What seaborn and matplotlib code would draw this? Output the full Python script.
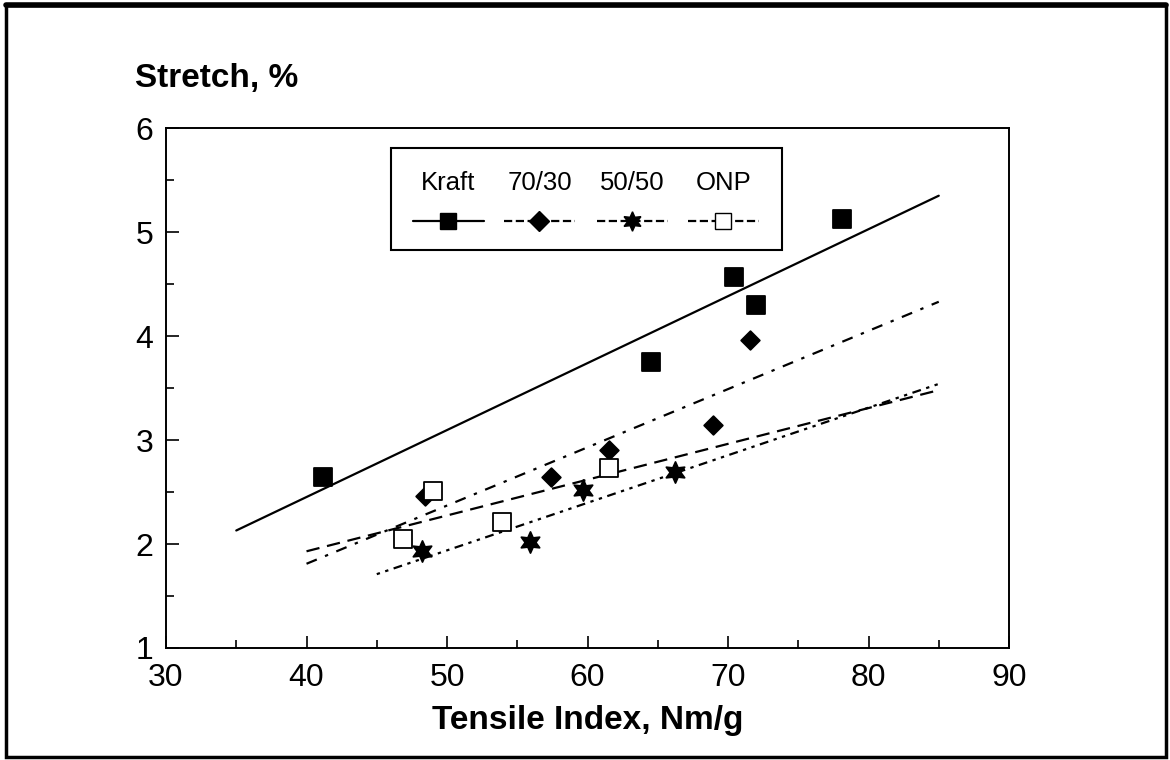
import matplotlib
matplotlib.use("Agg")
import matplotlib.pyplot as plt
from matplotlib.patches import Rectangle
from matplotlib.lines import Line2D
import seaborn as sns

# measured points
kraft_x = [41.2, 64.5, 70.4, 72.0, 78.1]
kraft_y = [2.64, 3.75, 4.57, 4.30, 5.13]
b7030_x = [48.4, 57.4, 61.5, 68.9, 71.6]
b7030_y = [2.46, 2.64, 2.90, 3.14, 3.96]
b5050_x = [48.2, 55.9, 59.7, 66.2]
b5050_y = [1.93, 2.02, 2.52, 2.69]
onp_x = [46.9, 49.0, 53.9, 61.5]
onp_y = [2.05, 2.51, 2.21, 2.73]

# fitted lines
kraft_fit_x = [35, 85]
kraft_fit_y = [2.13, 5.35]
b7030_fit_x = [40, 85]
b7030_fit_y = [1.81, 4.33]
b5050_fit_x = [45, 85]
b5050_fit_y = [1.71, 3.54]
onp_fit_x = [40, 85]
onp_fit_y = [1.93, 3.48]

labels = ["Kraft", "70/30", "50/50", "ONP"]

sns.set_style("ticks")
plt.rcParams['font.family'] = ['Liberation Sans', 'DejaVu Sans']
plt.rcParams['text.color'] = 'black'

fig = plt.figure(figsize=(11.7, 7.6), dpi=100)
ax = fig.add_axes([0.1419, 0.1474, 0.7205, 0.684])

star6 = (6, 1, 0)
styles = [
    (kraft_x, kraft_y, kraft_fit_x, kraft_fit_y, "s", "black", "-", 150, 12),
    (b7030_x, b7030_y, b7030_fit_x, b7030_fit_y, "D", "black", (0, (5, 4, 1.5, 4)), 90, 10),
    (b5050_x, b5050_y, b5050_fit_x, b5050_fit_y, star6, "black", (0, (1.5, 2.5, 1.5, 2.5, 4, 2.5)), 230, 14),
    (onp_x, onp_y, onp_fit_x, onp_fit_y, "s", "white", (0, (6, 3.5)), 150, 12),
]

handles = []
for px, py, fx, fy, mk, fc, ls, sz, lsz in styles:
    sns.lineplot(x=fx, y=fy, ax=ax, color="black", linestyle=ls, linewidth=1.6)
    sns.scatterplot(x=px, y=py, ax=ax, marker=mk, s=sz, color=fc,
                    edgecolor="black", linewidth=1.3, zorder=5)
    handles.append(Line2D([], [], color="black", linestyle=ls, linewidth=1.6,
                          marker=mk, markersize=lsz,
                          markerfacecolor=fc, markeredgecolor="black"))

ax.set_xlim(30, 90)
ax.set_ylim(1, 6)
ax.set_xticks(range(30, 91, 10))
ax.set_xticks(range(35, 90, 10), minor=True)
ax.set_yticks(range(1, 7))
ax.set_yticks([1.5, 2.5, 3.5, 4.5, 5.5], minor=True)
ax.tick_params(which="both", direction="in", labelsize=23, width=1.2,
               colors="black", labelcolor="black")
ax.tick_params(which="major", length=9)
ax.tick_params(axis="x", which="major", pad=11)
ax.tick_params(axis="y", which="major", pad=9)
ax.tick_params(which="minor", length=6)
for sp in ax.spines.values():
    sp.set_linewidth(1.4)
    sp.set_color("black")
ax.set_xlabel("")
ax.set_ylabel("")

fig.text(0.502, 0.052, "Tensile Index, Nm/g", ha="center", va="center",
         fontsize=24, fontweight="bold", color="black")
fig.text(0.115, 0.897, "Stretch, %", ha="left", va="center",
         fontsize=24, fontweight="bold", color="black")

# legend box, labels above their samples
ax.add_patch(Rectangle((0.267, 0.765), 0.464, 0.197, transform=ax.transAxes,
                       fill=False, edgecolor="black", linewidth=1.5, zorder=6))
lab_x = [0.335, 0.443, 0.553, 0.661]
for lx, lab, h in zip(lab_x, labels, handles):
    ax.text(lx, 0.895, lab, transform=ax.transAxes, ha="center", va="center",
            fontsize=18.5, color="black")
    ax.plot([lx - 0.042, lx + 0.042], [0.821, 0.821], transform=ax.transAxes,
            color="black", linestyle=h.get_linestyle(), linewidth=1.6, zorder=6)
    ax.plot([lx], [0.821], transform=ax.transAxes, marker=h.get_marker(),
            markersize=h.get_markersize(), markerfacecolor=h.get_markerfacecolor(),
            markeredgecolor="black", linestyle="none", zorder=7)

# page frame, heavier along the top
fig.patches.append(Rectangle((0.005, 0.004), 0.9915, 0.989, transform=fig.transFigure,
                             fill=False, edgecolor="black", linewidth=2.5))
fig.lines.append(Line2D([0.005, 0.9965], [0.993, 0.993], transform=fig.transFigure,
                        color="black", linewidth=4))

fig.savefig("out.png", dpi=100)
